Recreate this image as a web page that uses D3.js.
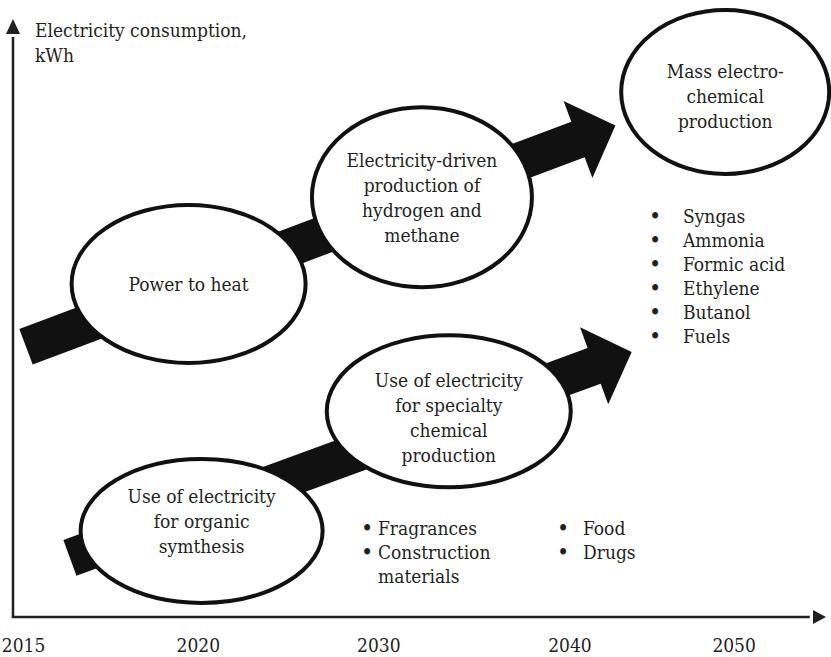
<!DOCTYPE html>
<html lang="en">
<head>
    <meta charset="UTF-8">
    <title>Electricity consumption roadmap</title>
    <script src="https://cdn.jsdelivr.net/npm/d3@7"></script>
    <style>
        body {
            margin: 0;
            background-color: #ffffff;
        }

        svg text {
            font-family: "DejaVu Serif Condensed", "DejaVu Serif", serif;
            font-stretch: condensed;
            font-size: 19px;
            fill: #231f20;
        }

        svg text.bullet {
            font-size: 23px;
        }

        .axis-line {
            stroke: #231f20;
            stroke-width: 2.5px;
        }

        ellipse.stage {
            fill: #ffffff;
            stroke: #111111;
            stroke-width: 4px;
        }

        path.band {
            fill: #111111;
        }
    </style>
</head>
<body>
<div id="chart"></div>
<script type="text/javascript">
    // time axis labels (not evenly spaced in the figure)
    var years = ["2015", "2020", "2030", "2040", "2050"];
    var yearPos = [1.3, 22.8, 45.0, 68.5, 88.7];   // % along the time axis

    // stages: position on time (%) and consumption (%) axes
    var stageNames = [
        ["Power to heat"],
        ["Electricity-driven", "production of", "hydrogen and", "methane"],
        ["Mass electro-", "chemical", "production"],
        ["Use of electricity", "for specialty", "chemical", "production"],
        ["Use of electricity", "for organic", "symthesis"]
    ];
    var stageTime = [21.6, 50.3, 87.6, 53.6, 23.2];
    var stageLevel = [55.7, 70.2, 87.8, 34.4, 14.4];

    // the two growth arrows: start and tip (time %, consumption %)
    var arrowFrom = [[1.6, 45.2], [7.0, 9.9]];
    var arrowTo = [[74.1, 82.2], [76.1, 44.3]];

    // product lists
    var bulkProducts = ["Syngas", "Ammonia", "Formic acid", "Ethylene", "Butanol", "Fuels"];
    var specialtyA = [["Fragrances"], ["Construction", "materials"]];
    var specialtyB = [["Food"], ["Drugs"]];

    const width = 831, height = 657;
    const origin = {x: 13, y: 617},
        xEnd = 826,
        yTop = 19;

    // ellipse sizes and small text nudges
    var stageRx = [117, 110, 104, 122, 121],
        stageRy = [79, 90, 82, 76, 72],
        textNudge = [0, 0, 4, 6, -10],
        lineH = 25;

    const svg = d3.select("#chart").append("svg")
        .attr("width", width)
        .attr("height", height);

    var x = d3.scaleLinear().domain([0, 100]).range([origin.x, xEnd]);
    var y = d3.scaleLinear().domain([0, 100]).range([origin.y, yTop]);

    // axes
    svg.append("line")
        .attr("class", "axis-line")
        .attr("x1", x(0)).attr("y1", y(0) + 1)
        .attr("x2", x(0)).attr("y2", y(97));
    svg.append("line")
        .attr("class", "axis-line")
        .attr("x1", x(0) - 1.2).attr("y1", y(0))
        .attr("x2", x(98)).attr("y2", y(0));
    svg.append("path")
        .attr("fill", "#231f20")
        .attr("d", "M" + x(0) + "," + y(100) + "L" + (x(0) + 7) + "," + (y(100) + 15) +
            "L" + (x(0) - 7) + "," + (y(100) + 15) + "Z");
    svg.append("path")
        .attr("fill", "#231f20")
        .attr("d", "M" + x(100) + "," + y(0) + "L" + (x(100) - 13) + "," + (y(0) - 7) +
            "L" + (x(100) - 13) + "," + (y(0) + 7) + "Z");

    svg.append("text")
        .attr("x", 35)
        .attr("y", 37)
        .text("Electricity consumption,");
    svg.append("text")
        .attr("x", 35)
        .attr("y", 62)
        .text("kWh");

    svg.selectAll("text.year")
        .data(years)
        .enter().append("text")
        .attr("class", "year")
        .attr("x", function (d, i) { return x(yearPos[i]); })
        .attr("y", 652)
        .style("text-anchor", "middle")
        .text(function (d) { return d; });

    // arrows as polygons
    var bandW = 38, headW = 82, headL = 40;
    var line = d3.line();
    function arrowPoints(a, b) {
        var x0 = x(a[0]), y0 = y(a[1]), x1 = x(b[0]), y1 = y(b[1]);
        var L = Math.hypot(x1 - x0, y1 - y0);
        var ux = (x1 - x0) / L, uy = (y1 - y0) / L;
        var nx = -uy, ny = ux;
        var bx = x1 - ux * headL, by = y1 - uy * headL;
        return [
            [x0 + nx * bandW / 2, y0 + ny * bandW / 2],
            [bx + nx * bandW / 2, by + ny * bandW / 2],
            [bx + nx * headW / 2, by + ny * headW / 2],
            [x1, y1],
            [bx - nx * headW / 2, by - ny * headW / 2],
            [bx - nx * bandW / 2, by - ny * bandW / 2],
            [x0 - nx * bandW / 2, y0 - ny * bandW / 2]
        ];
    }
    svg.selectAll("path.band")
        .data(arrowFrom)
        .enter().append("path")
        .attr("class", "band")
        .attr("d", function (d, i) { return line(arrowPoints(d, arrowTo[i])) + "Z"; });

    // stage ellipses
    var stages = svg.selectAll("g.stage")
        .data(stageNames)
        .enter().append("g")
        .attr("class", "stage");
    stages.append("ellipse")
        .attr("class", "stage")
        .attr("cx", function (d, i) { return x(stageTime[i]); })
        .attr("cy", function (d, i) { return y(stageLevel[i]); })
        .attr("rx", function (d, i) { return stageRx[i]; })
        .attr("ry", function (d, i) { return stageRy[i]; });
    stages.each(function (lines, i) {
        var cx = x(stageTime[i]), cy = y(stageLevel[i]) + textNudge[i];
        d3.select(this).selectAll("text")
            .data(lines)
            .enter().append("text")
            .attr("x", cx)
            .attr("y", function (d, j) { return cy + (j - (lines.length - 1) / 2) * lineH + 7; })
            .style("text-anchor", "middle")
            .text(function (d) { return d; });
    });

    // bullet list next to the mass production stage
    var bulk = svg.append("g");
    bulkProducts.forEach(function (p, i) {
        bulk.append("text").attr("class", "bullet").attr("x", 649).attr("y", 224 + i * 24).text("\u2022");
        bulk.append("text").attr("x", 683).attr("y", 223 + i * 24).text(p);
    });

    function bulletList(items, bx, tx, y0) {
        var row = 0;
        items.forEach(function (item) {
            svg.append("text").attr("class", "bullet").attr("x", bx).attr("y", y0 + 1 + row * 24).text("\u2022");
            item.forEach(function (t) {
                svg.append("text").attr("x", tx).attr("y", y0 + row * 24).text(t);
                row++;
            });
        });
    }
    bulletList(specialtyA, 361, 378, 535);
    bulletList(specialtyB, 557, 583, 535);
</script>
</body>
</html>
